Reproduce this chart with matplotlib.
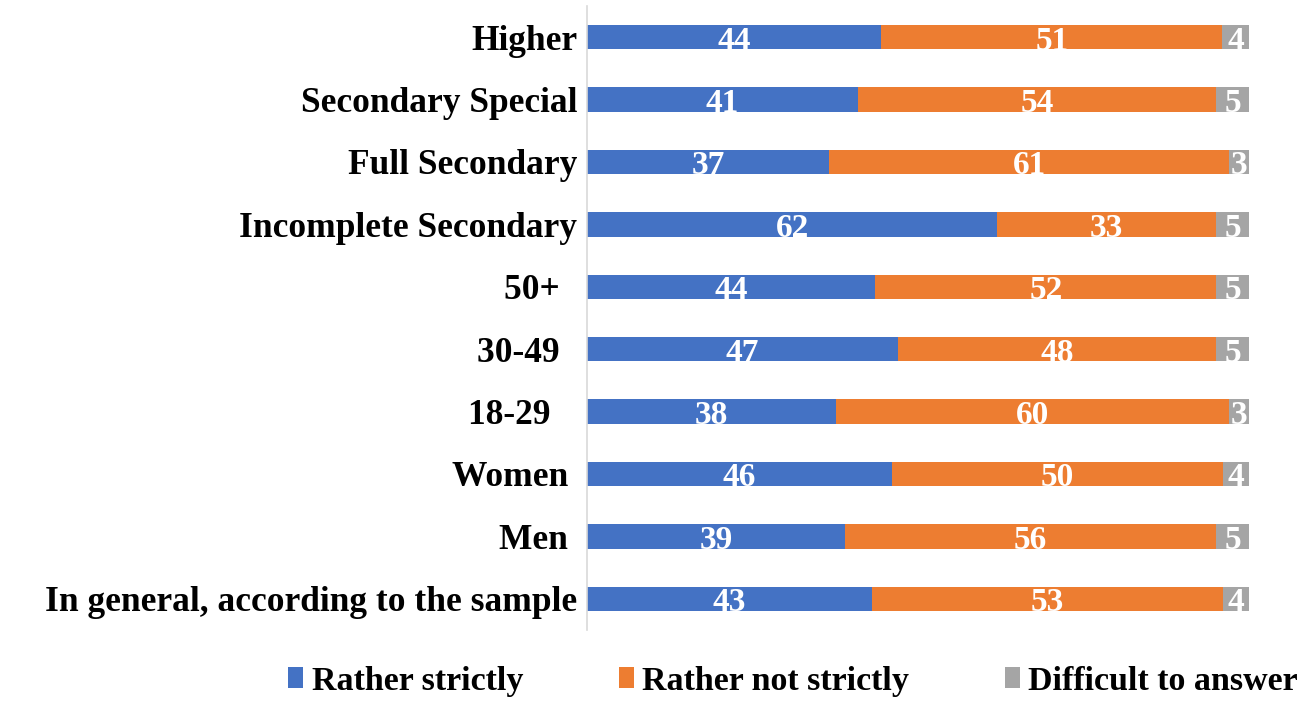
import numpy as np
import matplotlib.pyplot as plt

# groups, top to bottom
groups = ["Higher", "Secondary Special", "Full Secondary", "Incomplete Secondary",
          "50+  ", "30-49  ", "18-29   ", "Women ", "Men ",
          "In general, according to the sample"]
strictly = [44, 41, 37, 62, 44, 47, 38, 46, 39, 43]
not_strictly = [51, 54, 61, 33, 52, 48, 60, 50, 56, 53]
difficult = [4, 5, 3, 5, 5, 5, 3, 4, 5, 4]

series = ["Rather strictly", "Rather not strictly", "Difficult to answer"]
colors = ["#4472C4", "#ED7D31", "#A5A5A5"]

plt.rcParams['font.family'] = ['Liberation Serif', 'DejaVu Serif']
plt.rcParams['font.weight'] = 'bold'

data = np.array([strictly, not_strictly, difficult], dtype=float)
shares = data / data.sum(axis=0) * 100  # each row stacked to 100%

fig = plt.figure(figsize=(13, 7.02), dpi=100)
ax = fig.add_axes([0.4515, 0.1026, 0.5093, 0.8889])

y = np.arange(len(groups))
left = np.zeros(len(groups))
for vals, raw, name, col in zip(shares, data, series, colors):
    ax.barh(y, vals, left=left, height=0.39, color=col, label=name)
    for yi, l, w, r in zip(y, left, vals, raw):
        ax.text(l + w / 2, yi + 0.2, f"{int(r)}", ha="center", va="baseline",
                color="white", fontsize=24, fontweight="bold", clip_on=True)
    left += vals

ax.set_xlim(0, 100)
ax.set_ylim(len(groups) - 0.5, -0.5)
ax.set_yticks(y)
ax.set_yticklabels(groups, fontsize=25.5, fontweight="bold")
ax.tick_params(axis="y", length=0, pad=7)
ax.set_xticks([])
for s in ["top", "right", "bottom"]:
    ax.spines[s].set_visible(False)
ax.spines["left"].set_color("#D9D9D9")
ax.spines["left"].set_linewidth(1.2)

fig.legend(loc="lower center", bbox_to_anchor=(0.61, -0.036), ncol=3, frameon=False,
           fontsize=24.5, handlelength=0.45, handleheight=0.6, handletextpad=0.25,
           columnspacing=2.8)

fig.savefig("out.png", dpi=100)
